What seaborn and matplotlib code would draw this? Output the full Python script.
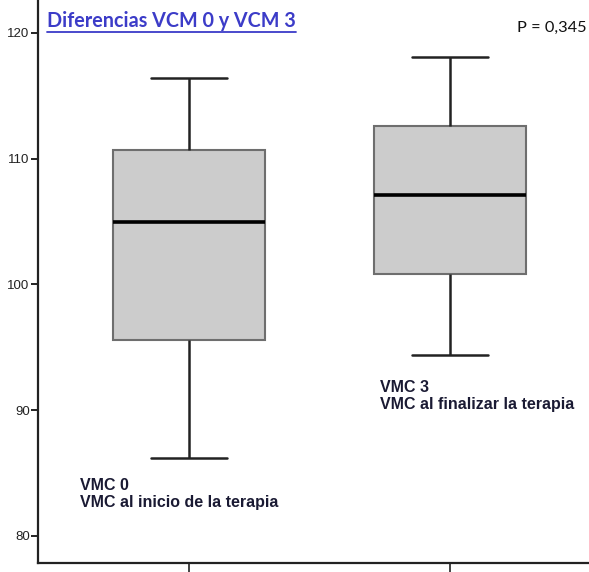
import matplotlib
matplotlib.use("Agg")
import matplotlib.pyplot as plt
import seaborn as sns
import pandas as pd
from matplotlib.lines import Line2D

# Five-number summaries (min, Q1, median, Q3, max)
groups = ["VMC 0", "VMC 3"]
vmc0_values = [86.2, 95.6, 105.0, 110.7, 116.4]
vmc3_values = [94.4, 100.8, 107.1, 112.6, 118.1]
y_ticks = [80, 90, 100, 110, 120]
title_text = "Diferencias VCM 0 y VCM 3"
p_text = "P = 0,345"
label0 = "VMC 0\nVMC al inicio de la terapia"
label3 = "VMC 3\nVMC al finalizar la terapia"

df = pd.DataFrame({
    "grupo": [groups[0]] * len(vmc0_values) + [groups[1]] * len(vmc3_values),
    "valor": vmc0_values + vmc3_values,
})

sns.set_style("white")
plt.rcParams["font.family"] = ["Liberation Sans", "DejaVu Sans"]

W, H = 589, 572
fig = plt.figure(figsize=(W / 100, H / 100), dpi=100)
ax = fig.add_axes([38 / W, 9 / H, 1 - 38 / W, 1 - 9 / H])

sns.boxplot(data=df, x="grupo", y="valor", ax=ax, width=0.58,
            color="#cccccc", saturation=1, whis=1.5,
            boxprops=dict(facecolor="#cccccc", edgecolor="#6e6e6e", linewidth=1.5),
            whiskerprops=dict(color="#222222", linewidth=1.8),
            capprops=dict(color="#222222", linewidth=1.8),
            medianprops=dict(color="#000000", linewidth=2.6),
            flierprops=dict(marker=""))

ax.set_ylim(77.85, 122.62)
ax.set_xlim(-0.579, 1.533)
ax.set_yticks(y_ticks)
ax.set_yticklabels([str(t) for t in y_ticks])
ax.set_xticks([0, 1])
ax.set_xticklabels(["", ""])
ax.set_xlabel("")
ax.set_ylabel("")
for s in ["top", "right"]:
    ax.spines[s].set_visible(False)
for s in ["left", "bottom"]:
    ax.spines[s].set_color("#222222")
    ax.spines[s].set_linewidth(1.6)
ax.tick_params(axis="y", direction="out", length=5, width=1.4, color="#222222",
               labelsize=9.5, labelcolor="#222222", pad=1, left=True)
ax.tick_params(axis="x", direction="out", length=8, width=1.2, color="#222222", bottom=True)

t = fig.text(47 / W, 1 - 27 / H, title_text, fontsize=14.2, fontweight="bold",
             family=["Lato", "DejaVu Sans"], color="#3c3cc8", ha="left", va="baseline")
fig.text(587 / W, 1 - 32 / H, p_text, fontsize=11.8, family=["Lato", "DejaVu Sans"],
         color="#111111", ha="right", va="baseline")

ann_font = ["Liberation Sans", "DejaVu Sans"]
ax.text(-0.419, 84.6, label0, fontsize=11.5, fontweight="bold", color="#1a1a33",
        family=ann_font, ha="left", va="top", linespacing=1.15)
ax.text(0.73, 92.4, label3, fontsize=11.5, fontweight="bold", color="#1a1a33",
        family=ann_font, ha="left", va="top", linespacing=1.15)

fig.canvas.draw()
bb = t.get_window_extent(renderer=fig.canvas.get_renderer())
uy = bb.y0 - 1
fig.add_artist(Line2D([bb.x0 / W, bb.x1 / W], [uy / H, uy / H], color="#3c3cc8",
                      linewidth=1.3, transform=fig.transFigure))

fig.savefig("out.png", dpi=100)
